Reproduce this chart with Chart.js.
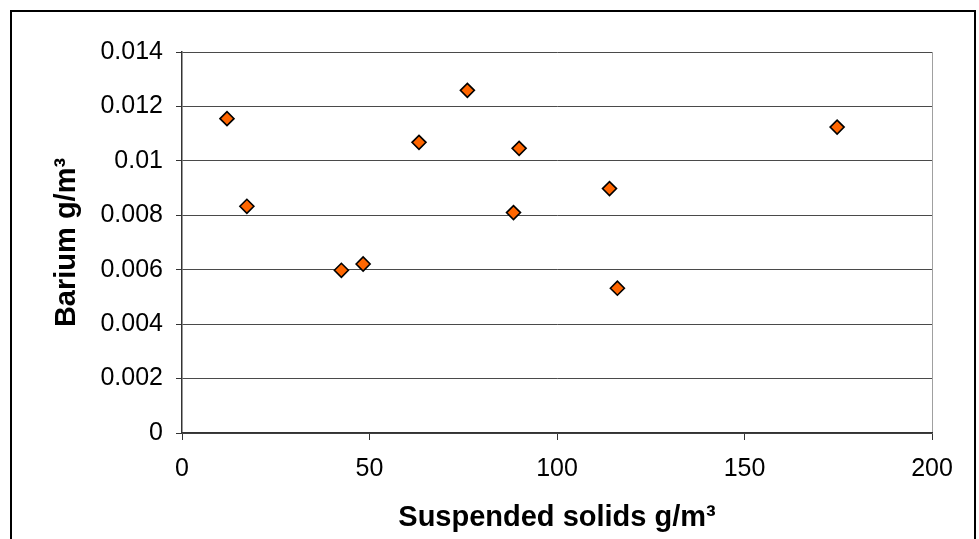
<!DOCTYPE html>
<html>
<head>
<meta charset="utf-8">
<title>Barium vs suspended solids</title>
<script src="https://cdn.jsdelivr.net/npm/chart.js@4/dist/chart.umd.min.js"></script>
<style>
  html, body { margin: 0; padding: 0; background: #fff; }
  .wrap { position: relative; width: 979px; height: 539px; overflow: hidden; }
  .frame {
    position: absolute; left: 10px; top: 10px; width: 962px; height: 540px;
    border: 2px solid #000; border-bottom: none; box-sizing: content-box;
  }
  canvas { position: absolute; left: 0; top: 0; }
</style>
</head>
<body>
<div class="wrap">
  <div class="frame"></div>
  <canvas id="chart" width="979" height="539"></canvas>
</div>
<script>
// Suspended solids (g/m3) and barium (g/m3) per sample
const solids = [12, 17.3, 42.5, 48.3, 63.2, 76.1, 89.9, 88.4, 114, 116.1, 174.7];
const barium = [0.01155, 0.00833, 0.00598, 0.00621, 0.01068, 0.01259, 0.01046, 0.0081, 0.00898, 0.00532, 0.01124];

const xTicks = [0, 50, 100, 150, 200];
const yTickLabels = ['0', '0.002', '0.004', '0.006', '0.008', '0.01', '0.012', '0.014'];

const FONT = "'Liberation Sans', Arial, Helvetica, sans-serif";

const points = solids.map((x, i) => ({ x, y: barium[i] }));

new Chart(document.getElementById('chart'), {
  type: 'scatter',
  data: {
    datasets: [{
      data: points,
      pointStyle: 'rectRot',
      pointRadius: 7,
      pointHoverRadius: 7,
      backgroundColor: '#ff6600',
      borderColor: '#000',
      borderWidth: 1.6
    }]
  },
  options: {
    responsive: false,
    animation: false,
    events: [],
    layout: { padding: { top: 52, right: 47, left: 0, bottom: 0 } },
    plugins: { legend: { display: false }, tooltip: { enabled: false } },
    scales: {
      x: {
        type: 'linear',
        min: xTicks[0],
        max: xTicks[xTicks.length - 1],
        afterBuildTicks: s => { s.ticks = xTicks.map(v => ({ value: v })); },
        afterFit: s => { s.height = 106; },
        grid: {
          // only the right edge of the plot gets a (light) line
          color: ctx => ctx.index === xTicks.length - 1 ? '#a0a0a0' : 'rgba(0,0,0,0)',
          tickColor: '#333',
          tickLength: 7,
          lineWidth: 1
        },
        border: { color: '#333', width: 1.5 },
        ticks: {
          color: '#000',
          padding: 14,
          font: { family: FONT, size: 25 },
          callback: v => String(v)
        },
        title: {
          display: true,
          text: 'Suspended solids g/m³',
          color: '#000',
          font: { family: FONT, size: 29, weight: 'bold' },
          padding: { bottom: 4 }
        }
      },
      y: {
        type: 'linear',
        min: 0,
        max: 0.014,
        afterBuildTicks: s => { s.ticks = yTickLabels.map(t => ({ value: +t })); },
        afterFit: s => { s.width = 182; },
        grid: {
          color: '#4a4a4a',
          tickColor: '#333',
          tickLength: 6,
          lineWidth: 1
        },
        border: { color: '#333', width: 1.5 },
        ticks: {
          color: '#000',
          padding: 13,
          font: { family: FONT, size: 25 },
          callback: (v, i) => yTickLabels[i]
        },
        title: {
          display: true,
          text: 'Barium g/m³',
          color: '#000',
          font: { family: FONT, size: 29, weight: 'bold' },
          padding: { top: 50 }
        }
      }
    }
  }
});
</script>
</body>
</html>
